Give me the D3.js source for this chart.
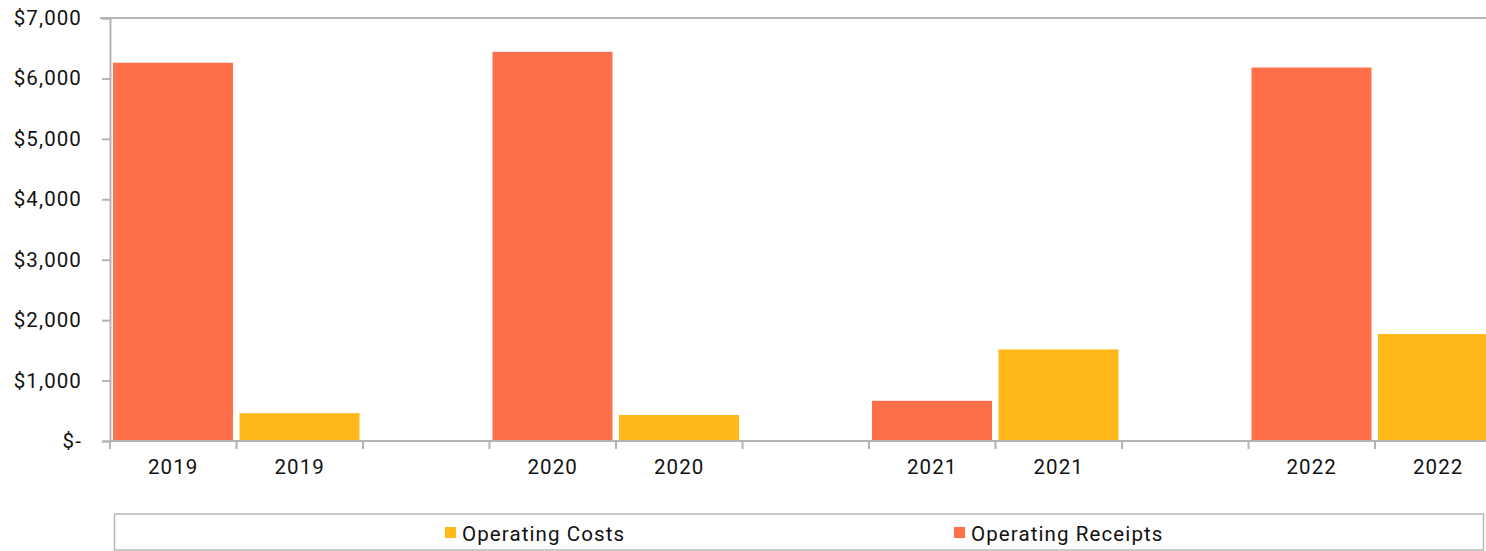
<!DOCTYPE html>
<html lang="en">
<head>
<meta charset="UTF-8">
<title>Operating Receipts and Costs</title>
<script src="https://d3js.org/d3.v7.min.js"></script>
<style>
  body { margin: 0; background: #fff; }
  text { font-family: Roboto, "Noto Sans", sans-serif; fill: #111; }
</style>
</head>
<body>
<div id="chart"></div>
<script>
// values
const years = ["2019", "2020", "2021", "2022"];
const receipts = [6260, 6440, 665, 6180];
const costs = [460, 430, 1515, 1770];
const yTicks = [0, 1000, 2000, 3000, 4000, 5000, 6000, 7000];

const width = 1486, height = 551;
const plotLeft = 110, plotTop = 18, plotBottom = 441;
const step = 126.5;
const fontSize = "20.5px", spacing = "1.1px";

// slots: receipts, costs, gap for each year (last gap dropped)
const slots = [];
years.forEach((yr, i) => {
    slots.push({ key: "r" + i, label: yr, value: receipts[i], series: "Operating Receipts" });
    slots.push({ key: "c" + i, label: yr, value: costs[i], series: "Operating Costs" });
    if (i < years.length - 1) slots.push({ key: "g" + i, label: "", value: null });
});

const color = { "Operating Receipts": "#FF704A", "Operating Costs": "#FFB817" };

const svg = d3.select("#chart").append("svg")
    .attr("width", width)
    .attr("height", height);

const x = d3.scaleBand()
    .domain(slots.map(d => d.key))
    .range([plotLeft, plotLeft + slots.length * step]);

const y = d3.scaleLinear()
    .domain([0, 7000])
    .range([plotBottom, plotTop]);

// top border line
svg.append("line")
    .attr("x1", 100).attr("x2", width)
    .attr("y1", y(7000)).attr("y2", y(7000))
    .attr("stroke", "#b3b3b3").attr("stroke-width", 2);

// bars
svg.selectAll(".bar")
    .data(slots.filter(d => d.value != null))
    .enter()
    .append("rect")
    .attr("class", "bar")
    .attr("x", d => x(d.key) + 3)
    .attr("width", x.bandwidth() - 6.5)
    .attr("y", d => y(d.value))
    .attr("height", d => y(0) - y(d.value))
    .attr("fill", d => color[d.series]);

// y axis
const yAxis = svg.append("g")
    .attr("transform", `translate(${plotLeft},0)`)
    .call(d3.axisLeft(y)
        .tickValues(yTicks)
        .tickSize(8)
        .tickPadding(20)
        .tickFormat(d => d === 0 ? "$-" : "$" + d3.format(",")(d)));
yAxis.select(".domain").attr("stroke", "#b3b3b3").attr("stroke-width", 2);
yAxis.selectAll(".tick line").attr("stroke", "#b3b3b3").attr("stroke-width", 2);
yAxis.selectAll(".tick text")
    .style("font-size", fontSize)
    .style("letter-spacing", spacing)
    .attr("fill", "#111");

// x axis
const xAxis = svg.append("g")
    .attr("transform", `translate(0,${plotBottom})`)
    .call(d3.axisBottom(x).tickSize(0).tickFormat(k => slots.find(s => s.key === k).label));
xAxis.select(".domain").remove();
svg.append("line")
    .attr("x1", plotLeft).attr("x2", width)
    .attr("y1", plotBottom).attr("y2", plotBottom)
    .attr("stroke", "#b3b3b3").attr("stroke-width", 2);
xAxis.selectAll(".tick text")
    .attr("dy", "1.45em")
    .style("font-size", fontSize)
    .style("letter-spacing", spacing)
    .attr("fill", "#111");

// boundary ticks between slots
svg.selectAll(".sep")
    .data(slots.map(d => d.key).concat(["end"]))
    .enter()
    .append("line")
    .attr("x1", k => k === "end" ? x.range()[1] : x(k))
    .attr("x2", k => k === "end" ? x.range()[1] : x(k))
    .attr("y1", plotBottom).attr("y2", plotBottom + 8)
    .attr("stroke", "#b3b3b3").attr("stroke-width", 2);

// legend
const legend = svg.append("g");
legend.append("rect")
    .attr("x", 114.5).attr("y", 514)
    .attr("width", 1369).attr("height", 36)
    .attr("fill", "none")
    .attr("stroke", "#b8b8b8").attr("stroke-width", 1.5);

const legendItems = [
    { name: "Operating Costs", x: 445 },
    { name: "Operating Receipts", x: 954 }
];
legendItems.forEach(d => {
    legend.append("rect")
        .attr("x", d.x).attr("y", 527)
        .attr("width", 11).attr("height", 11)
        .attr("fill", color[d.name]);
    legend.append("text")
        .attr("x", d.x + 17).attr("y", 540.5)
        .style("font-size", fontSize)
        .style("letter-spacing", spacing)
        .text(d.name);
});
</script>
</body>
</html>
